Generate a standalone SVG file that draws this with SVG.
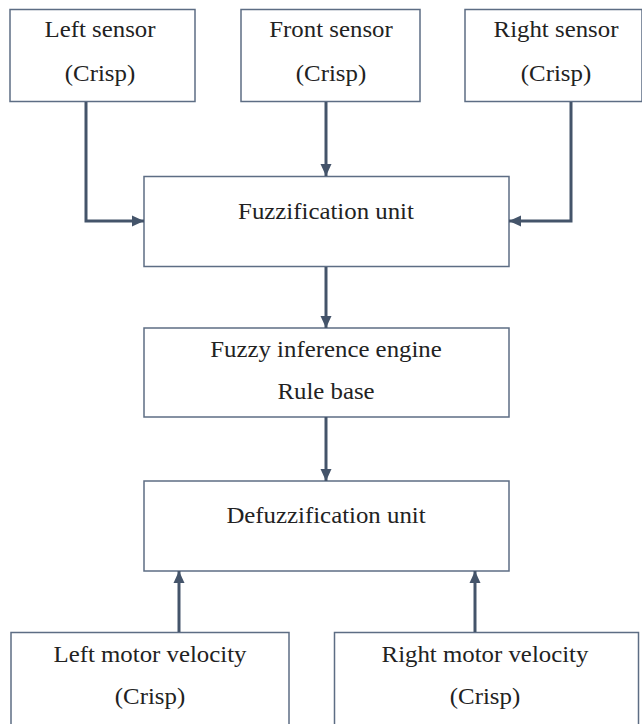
<svg xmlns="http://www.w3.org/2000/svg" width="642" height="724" viewBox="0 0 642 724">
  <style>
    .box { fill: #ffffff; stroke: #5d6d84; stroke-width: 1.5; }
    .lbl { font-family: "Liberation Serif", "Times New Roman", serif; font-size: 23px; fill: #222222; text-anchor: middle; }
    .wire { fill: none; stroke: #44546a; stroke-width: 3; marker-end: url(#head); }
  </style>
  <defs>
    <marker id="head" markerUnits="userSpaceOnUse" markerWidth="14" markerHeight="14" viewBox="0 0 14 14" refX="13" refY="7" orient="auto">
      <path d="M1 1.5 L13 7 L1 12.5 Z" fill="#44546a"/>
    </marker>
  </defs>
  <rect width="642" height="724" fill="#ffffff"/>

  <g id="left-sensor">
    <rect class="box" x="10" y="9.5" width="185" height="92"/>
    <text class="lbl" transform="translate(100 37) scale(1.08 1)">Left sensor</text>
    <text class="lbl" transform="translate(100 81) scale(1.08 1)">(Crisp)</text>
  </g>
  <g id="front-sensor">
    <rect class="box" x="241" y="9.5" width="179" height="92"/>
    <text class="lbl" transform="translate(331 37) scale(1.08 1)">Front sensor</text>
    <text class="lbl" transform="translate(331 81) scale(1.08 1)">(Crisp)</text>
  </g>
  <g id="right-sensor">
    <rect class="box" x="465" y="9.5" width="177" height="92"/>
    <text class="lbl" transform="translate(556 37) scale(1.08 1)">Right sensor</text>
    <text class="lbl" transform="translate(556 81) scale(1.08 1)">(Crisp)</text>
  </g>
  <g id="fuzzification">
    <rect class="box" x="144" y="176.5" width="365" height="90"/>
    <text class="lbl" transform="translate(326 219) scale(1.08 1)">Fuzzification unit</text>
  </g>
  <g id="inference">
    <rect class="box" x="144" y="328" width="365" height="89"/>
    <text class="lbl" transform="translate(326 357) scale(1.08 1)">Fuzzy inference engine</text>
    <text class="lbl" transform="translate(326 399) scale(1.08 1)">Rule base</text>
  </g>
  <g id="defuzzification">
    <rect class="box" x="144" y="481" width="365" height="90"/>
    <text class="lbl" transform="translate(326 523) scale(1.08 1)">Defuzzification unit</text>
  </g>
  <g id="left-motor">
    <rect class="box" x="11" y="632.5" width="278" height="100"/>
    <text class="lbl" transform="translate(150 662) scale(1.08 1)">Left motor velocity</text>
    <text class="lbl" transform="translate(150 704) scale(1.08 1)">(Crisp)</text>
  </g>
  <g id="right-motor">
    <rect class="box" x="334.5" y="632.5" width="304" height="100"/>
    <text class="lbl" transform="translate(485 662) scale(1.08 1)">Right motor velocity</text>
    <text class="lbl" transform="translate(485 704) scale(1.08 1)">(Crisp)</text>
  </g>

  <g id="connectors">
    <path class="wire" d="M86 102 V221 H144"/>
    <path class="wire" d="M326 102 V176"/>
    <path class="wire" d="M571 102 V221 H509"/>
    <path class="wire" d="M326 267 V328"/>
    <path class="wire" d="M326 417 V481"/>
    <path class="wire" d="M179 632 V571"/>
    <path class="wire" d="M475 632 V571"/>
  </g>
</svg>
